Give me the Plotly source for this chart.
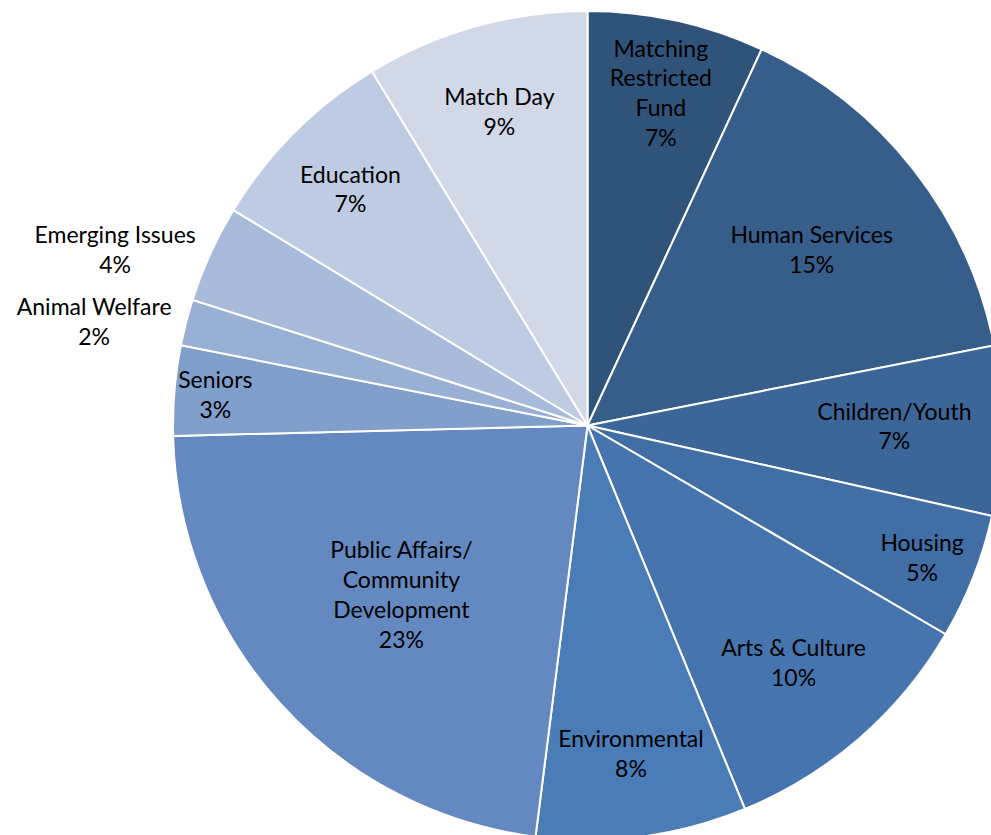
import plotly.graph_objects as go

categories = ["Matching<br>Restricted<br>Fund", "Human Services", "Children/Youth", "Housing",
              "Arts & Culture", "Environmental", "Public Affairs/<br>Community<br>Development",
              "Seniors", "Animal Welfare", "Emerging Issues", "Education", "Match Day"]
values = [6.9, 15.0, 6.6, 4.9, 10.4, 8.2, 22.6, 3.5, 1.8, 3.8, 7.6, 8.7]
pct_labels = ["7%", "15%", "7%", "5%", "10%", "8%", "23%", "3%", "2%", "4%", "7%", "9%"]
colors = ["#30537A", "#375D8A", "#3C6697", "#416EA5", "#4574AE", "#4A7CB8",
          "#6389C0", "#809FCB", "#97B0D4", "#A9BBDA", "#BECBE2", "#D1D8E7"]
positions = ["inside"] * 8 + ["outside", "outside"] + ["inside"] * 2

fig = go.Figure(go.Pie(
    labels=categories, values=values, customdata=pct_labels,
    sort=False, direction="clockwise", rotation=0,
    marker=dict(colors=colors, line=dict(color="white", width=2)),
    texttemplate="%{label}<br>%{customdata}",
    textposition=positions, insidetextorientation="horizontal",
    textfont=dict(family="Lato", size=23, color="black"),
    hoverinfo="label+percent", showlegend=False,
    domain=dict(x=[0, 1], y=[0, 1]),
))
fig.update_layout(
    width=1007, height=845,
    margin=dict(l=173, r=0, t=11, b=0),
    paper_bgcolor="white",
    uniformtext=dict(minsize=23, mode="show"),
)
fig.write_html("out.html", config={"displayModeBar": False},
               post_script="document.body.style.margin='0';document.body.style.overflow='hidden';document.documentElement.style.overflow='hidden';")
